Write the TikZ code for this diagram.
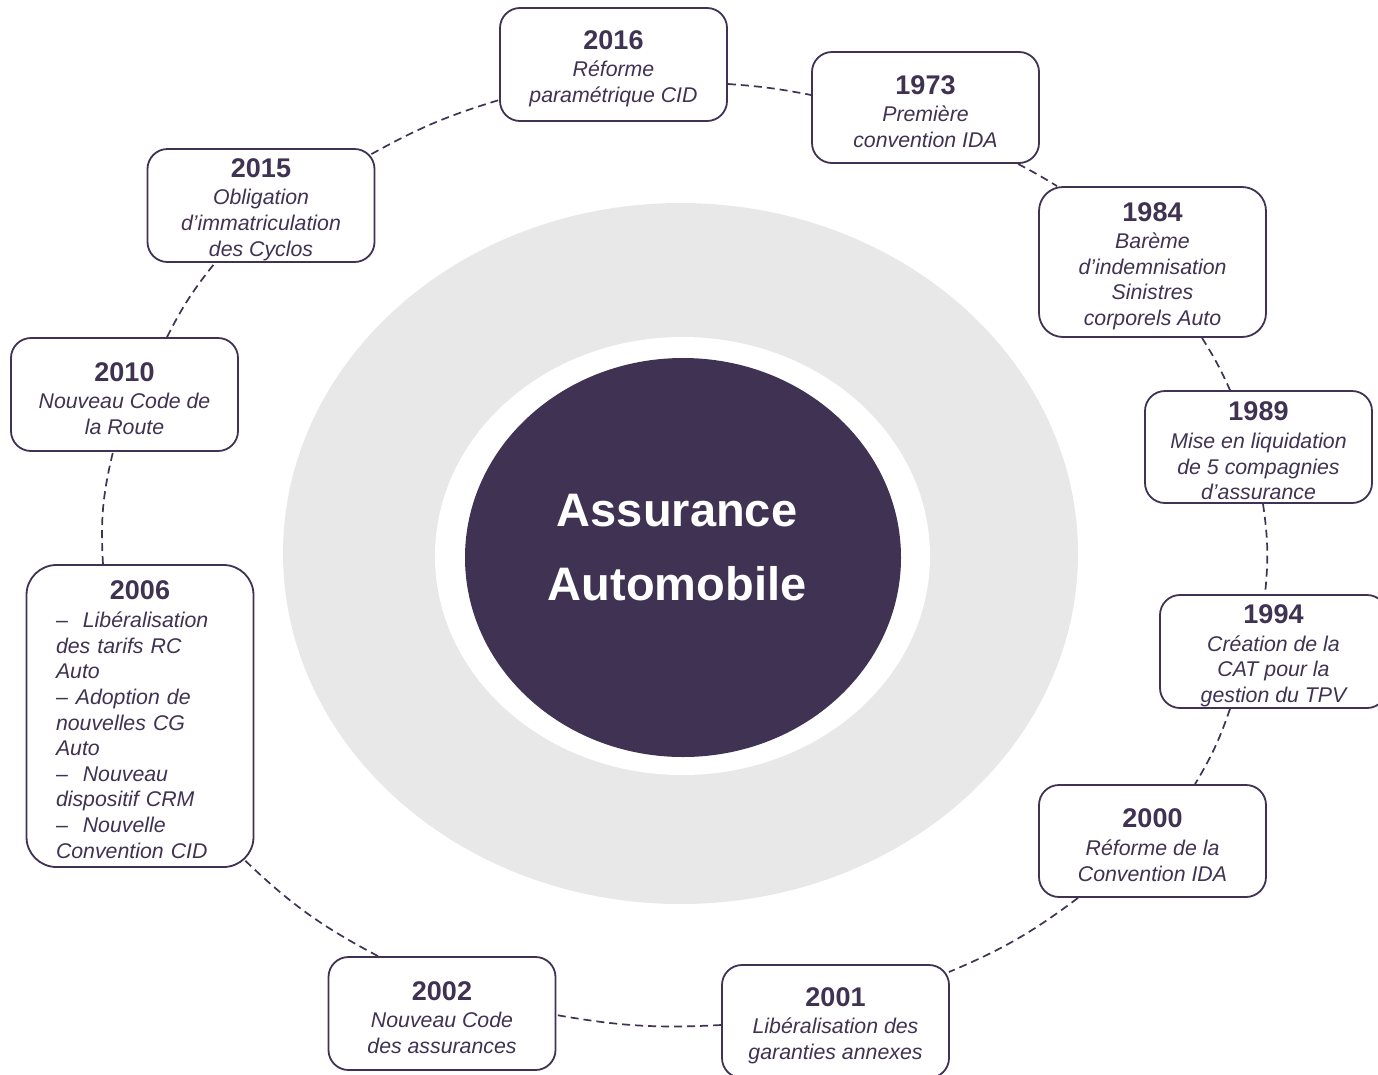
\documentclass[tikz,border=0pt]{standalone}
\usepackage{fontspec}
\setmainfont{Liberation Sans}
\usetikzlibrary{calc,shapes.geometric}
\definecolor{ink}{RGB}{63,50,82}
\definecolor{ringgray}{RGB}{232,232,232}
\newcommand\evyear[1]{{\fontsize{27}{25.6}\selectfont\bfseries\upshape\rule{0pt}{27pt}#1}\\[2pt]}
\begin{document}
\begin{tikzpicture}[x=1pt,y=1pt,
  evbox/.style={draw=ink, line width=1.8pt, fill=white, rounded corners=20pt,
    minimum width=227pt, inner sep=0pt, align=center, text=ink,
    font=\fontsize{21.3}{25.6}\selectfont\itshape},
  conn/.style={draw=ink, line width=1.7pt, dash pattern=on 8pt off 5pt},
  hubtext/.style={text=white, align=center, font=\fontsize{47}{74}\selectfont\bfseries}
]
\useasboundingbox (0,0) rectangle (1378,-1074);
\clip (0,0) rectangle (1378,-1074);

% background ring and hub
\fill[ringgray] (680.5,-553.5) ellipse [x radius=397.5pt, y radius=350.5pt];
\fill[white] (682.5,-556) ellipse [x radius=247.5pt, y radius=219pt];
\node[ellipse, fill=ink, minimum width=436pt, minimum height=399pt, inner sep=0pt] (hub) at (683,-557.5) {};
\node[hubtext] (hubtxt) at (677,-548) {Assurance\\Automobile};

% event boxes
\node[evbox, minimum height=113pt] (n2016) at (613.5,-64.5) {\evyear{2016}Réforme\\paramétrique CID};
\node[evbox, minimum height=111pt] (n1973) at (925.5,-107.5) {\evyear{1973}Première\\convention IDA};
\node[evbox, minimum height=150pt, rounded corners=24pt] (n1984) at (1152.5,-262) {\evyear{1984}Barème\\d’indemnisation\\Sinistres\\corporels Auto};
\node[evbox, minimum height=112pt] (n1989) at (1258.5,-447) {\evyear{1989}Mise en liquidation\\de 5 compagnies\\d’assurance};
\node[evbox, minimum height=113pt] (n1994) at (1273.5,-651.5) {\evyear{1994}Création de la\\CAT pour la\\gestion du TPV};
\node[evbox, minimum height=112pt] (n2000) at (1152.5,-841) {\evyear{2000}Réforme de la\\Convention IDA};
\node[evbox, minimum height=113pt] (n2001) at (835.5,-1021.5) {\evyear{2001}Libéralisation des\\garanties annexes};
\node[evbox, minimum height=113pt] (n2002) at (442,-1013.5) {\evyear{2002}Nouveau Code\\des assurances};
\node[evbox, minimum height=302pt, rounded corners=30pt, align=left, text width=168pt] (n2006) at (140,-716)
  {{\fontsize{27}{25.6}\selectfont\bfseries\upshape\rule{0pt}{25.5pt}\makebox[168pt][c]{2006}}\\[3pt]
   –\hspace{15pt}Libéralisation\\des tarifs RC\\Auto\\
   –\hspace{8pt}Adoption de\\nouvelles CG\\Auto\\
   –\hspace{15pt}Nouveau\\dispositif CRM\\
   –\hspace{15pt}Nouvelle\\Convention CID};
\node[evbox, minimum height=113pt] (n2010) at (124.5,-394.5) {\evyear{2010}Nouveau Code de\\la Route};
\node[evbox, minimum height=113pt] (n2015) at (261,-205.5) {\evyear{2015}Obligation\\d’immatriculation\\des Cyclos};

% dashed connectors along the outer ellipse
\draw[conn] ($(n2016.east)+(0,-19.5)$) to[bend left=3.5] ($(n1973.west)+(0,12.5)$);
\draw[conn] ($(n1973.south)+(92.5,0)$) to[bend left=2] ($(n1984.north)+(-95.5,0)$);
\draw[conn] ($(n1984.south)+(49.5,0)$) to[bend left=4] ($(n1989.north)+(-28.5,0)$);
\draw[conn] ($(n1989.south)+(4.5,0)$) to[bend left=7] ($(n1994.north)+(-8.5,0)$);
\draw[conn] ($(n1994.south)+(-43.5,0)$) to[bend left=6] ($(n2000.north)+(42.5,0)$);
\draw[conn] ($(n2000.south)+(-74.5,0)$) to[bend left=7] ($(n2001.east)+(-1,49.5)$);
\draw[conn] ($(n2001.west)+(0,-3.5)$) to[bend left=6.5] ($(n2002.east)+(0,-1.5)$);
\draw[conn] ($(n2002.north)+(-64,0)$) to[bend left=8] ($(n2006.south east)+(-11,9)$);
\draw[conn] ($(n2006.north)+(-37,0)$) to[bend left=8.5] ($(n2010.south)+(-11.5,0)$);
\draw[conn] ($(n2010.north)+(42.5,0)$) to[bend left=6] ($(n2015.south)+(-46,0)$);
\draw[conn] ($(n2015.north east)+(-4,-6)$) to[bend left=6] ($(n2016.west)+(0,-35.5)$);
\end{tikzpicture}
\end{document}
